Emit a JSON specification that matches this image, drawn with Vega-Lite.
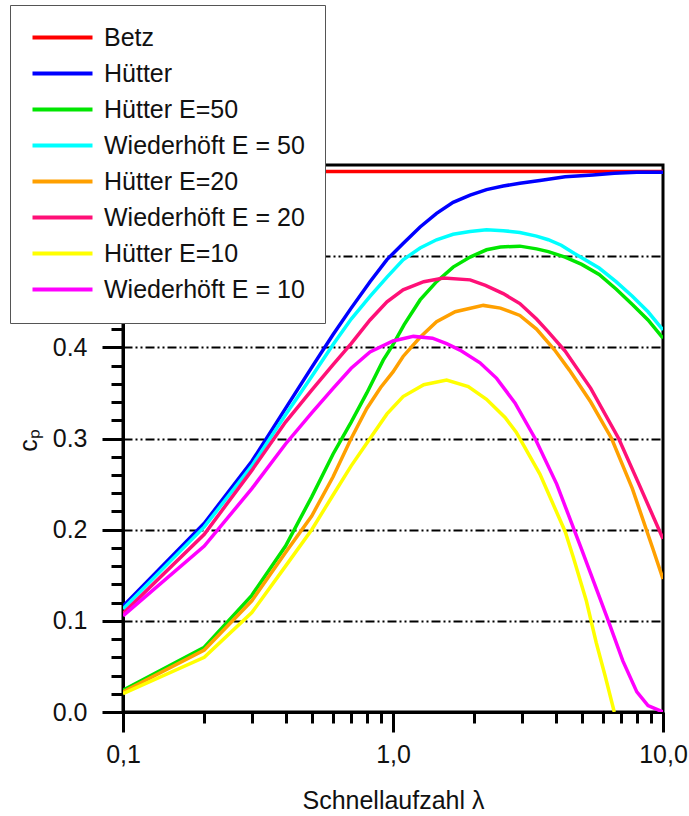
{
  "$schema": "https://vega.github.io/schema/vega-lite/v6.json",
  "width": 540,
  "height": 547,
  "autosize": {"type": "none"},
  "padding": {"left": 123, "top": 165, "right": 26, "bottom": 104},
  "background": "white",
  "config": {
    "font": "Liberation Sans",
    "view": {"stroke": "black", "strokeWidth": 3},
    "axis": {"domainColor": "black", "domainWidth": 3, "tickColor": "black", "tickWidth": 3, "labelColor": "#111", "titleColor": "#111", "labelFont": "Liberation Sans", "titleFont": "Liberation Sans", "titleFontWeight": "normal"}
  },
  "data": {"values": [
    {"series": "Betz", "lambda": 0.1, "cp": 0.593},
    {"series": "Betz", "lambda": 10, "cp": 0.593},
    {"series": "Hütter", "lambda": 0.1, "cp": 0.116},
    {"series": "Hütter", "lambda": 0.2, "cp": 0.207},
    {"series": "Hütter", "lambda": 0.3, "cp": 0.275},
    {"series": "Hütter", "lambda": 0.4, "cp": 0.333},
    {"series": "Hütter", "lambda": 0.5, "cp": 0.378},
    {"series": "Hütter", "lambda": 0.6, "cp": 0.414},
    {"series": "Hütter", "lambda": 0.7, "cp": 0.443},
    {"series": "Hütter", "lambda": 0.822, "cp": 0.472},
    {"series": "Hütter", "lambda": 0.948, "cp": 0.496},
    {"series": "Hütter", "lambda": 1.09, "cp": 0.514},
    {"series": "Hütter", "lambda": 1.26, "cp": 0.532},
    {"series": "Hütter", "lambda": 1.45, "cp": 0.547},
    {"series": "Hütter", "lambda": 1.67, "cp": 0.559},
    {"series": "Hütter", "lambda": 1.93, "cp": 0.567},
    {"series": "Hütter", "lambda": 2.22, "cp": 0.573},
    {"series": "Hütter", "lambda": 2.56, "cp": 0.577},
    {"series": "Hütter", "lambda": 2.95, "cp": 0.580},
    {"series": "Hütter", "lambda": 3.5, "cp": 0.583},
    {"series": "Hütter", "lambda": 4.34, "cp": 0.587},
    {"series": "Hütter", "lambda": 5.5, "cp": 0.589},
    {"series": "Hütter", "lambda": 6.6, "cp": 0.591},
    {"series": "Hütter", "lambda": 8.0, "cp": 0.592},
    {"series": "Hütter", "lambda": 10, "cp": 0.592},
    {"series": "Hütter E=50", "lambda": 0.1, "cp": 0.024},
    {"series": "Hütter E=50", "lambda": 0.2, "cp": 0.071},
    {"series": "Hütter E=50", "lambda": 0.3, "cp": 0.128},
    {"series": "Hütter E=50", "lambda": 0.4, "cp": 0.182},
    {"series": "Hütter E=50", "lambda": 0.5, "cp": 0.236},
    {"series": "Hütter E=50", "lambda": 0.6, "cp": 0.283},
    {"series": "Hütter E=50", "lambda": 0.7, "cp": 0.318},
    {"series": "Hütter E=50", "lambda": 0.8, "cp": 0.350},
    {"series": "Hütter E=50", "lambda": 0.92, "cp": 0.386},
    {"series": "Hütter E=50", "lambda": 1.0, "cp": 0.403},
    {"series": "Hütter E=50", "lambda": 1.1, "cp": 0.425},
    {"series": "Hütter E=50", "lambda": 1.26, "cp": 0.452},
    {"series": "Hütter E=50", "lambda": 1.45, "cp": 0.472},
    {"series": "Hütter E=50", "lambda": 1.67, "cp": 0.488},
    {"series": "Hütter E=50", "lambda": 1.93, "cp": 0.499},
    {"series": "Hütter E=50", "lambda": 2.22, "cp": 0.507},
    {"series": "Hütter E=50", "lambda": 2.5, "cp": 0.510},
    {"series": "Hütter E=50", "lambda": 2.95, "cp": 0.511},
    {"series": "Hütter E=50", "lambda": 3.4, "cp": 0.508},
    {"series": "Hütter E=50", "lambda": 3.76, "cp": 0.505},
    {"series": "Hütter E=50", "lambda": 4.34, "cp": 0.499},
    {"series": "Hütter E=50", "lambda": 5.0, "cp": 0.491},
    {"series": "Hütter E=50", "lambda": 5.8, "cp": 0.480},
    {"series": "Hütter E=50", "lambda": 6.7, "cp": 0.464},
    {"series": "Hütter E=50", "lambda": 7.7, "cp": 0.447},
    {"series": "Hütter E=50", "lambda": 8.8, "cp": 0.430},
    {"series": "Hütter E=50", "lambda": 10, "cp": 0.410},
    {"series": "Wiederhöft E = 50", "lambda": 0.1, "cp": 0.113},
    {"series": "Wiederhöft E = 50", "lambda": 0.2, "cp": 0.203},
    {"series": "Wiederhöft E = 50", "lambda": 0.3, "cp": 0.270},
    {"series": "Wiederhöft E = 50", "lambda": 0.4, "cp": 0.326},
    {"series": "Wiederhöft E = 50", "lambda": 0.5, "cp": 0.368},
    {"series": "Wiederhöft E = 50", "lambda": 0.6, "cp": 0.403},
    {"series": "Wiederhöft E = 50", "lambda": 0.7, "cp": 0.431},
    {"series": "Wiederhöft E = 50", "lambda": 0.822, "cp": 0.456},
    {"series": "Wiederhöft E = 50", "lambda": 0.95, "cp": 0.477},
    {"series": "Wiederhöft E = 50", "lambda": 1.09, "cp": 0.496},
    {"series": "Wiederhöft E = 50", "lambda": 1.26, "cp": 0.509},
    {"series": "Wiederhöft E = 50", "lambda": 1.45, "cp": 0.518},
    {"series": "Wiederhöft E = 50", "lambda": 1.67, "cp": 0.524},
    {"series": "Wiederhöft E = 50", "lambda": 1.93, "cp": 0.527},
    {"series": "Wiederhöft E = 50", "lambda": 2.22, "cp": 0.529},
    {"series": "Wiederhöft E = 50", "lambda": 2.56, "cp": 0.528},
    {"series": "Wiederhöft E = 50", "lambda": 2.95, "cp": 0.526},
    {"series": "Wiederhöft E = 50", "lambda": 3.4, "cp": 0.522},
    {"series": "Wiederhöft E = 50", "lambda": 3.76, "cp": 0.518},
    {"series": "Wiederhöft E = 50", "lambda": 4.2, "cp": 0.512},
    {"series": "Wiederhöft E = 50", "lambda": 4.7, "cp": 0.503},
    {"series": "Wiederhöft E = 50", "lambda": 5.8, "cp": 0.487},
    {"series": "Wiederhöft E = 50", "lambda": 6.7, "cp": 0.472},
    {"series": "Wiederhöft E = 50", "lambda": 7.7, "cp": 0.456},
    {"series": "Wiederhöft E = 50", "lambda": 8.8, "cp": 0.439},
    {"series": "Wiederhöft E = 50", "lambda": 10, "cp": 0.419},
    {"series": "Hütter E=20", "lambda": 0.1, "cp": 0.022},
    {"series": "Hütter E=20", "lambda": 0.2, "cp": 0.068},
    {"series": "Hütter E=20", "lambda": 0.3, "cp": 0.122},
    {"series": "Hütter E=20", "lambda": 0.4, "cp": 0.175},
    {"series": "Hütter E=20", "lambda": 0.5, "cp": 0.215},
    {"series": "Hütter E=20", "lambda": 0.6, "cp": 0.258},
    {"series": "Hütter E=20", "lambda": 0.7, "cp": 0.300},
    {"series": "Hütter E=20", "lambda": 0.8, "cp": 0.333},
    {"series": "Hütter E=20", "lambda": 0.9, "cp": 0.356},
    {"series": "Hütter E=20", "lambda": 1.0, "cp": 0.373},
    {"series": "Hütter E=20", "lambda": 1.09, "cp": 0.390},
    {"series": "Hütter E=20", "lambda": 1.26, "cp": 0.411},
    {"series": "Hütter E=20", "lambda": 1.45, "cp": 0.428},
    {"series": "Hütter E=20", "lambda": 1.7, "cp": 0.439},
    {"series": "Hütter E=20", "lambda": 2.16, "cp": 0.446},
    {"series": "Hütter E=20", "lambda": 2.5, "cp": 0.443},
    {"series": "Hütter E=20", "lambda": 2.95, "cp": 0.435},
    {"series": "Hütter E=20", "lambda": 3.4, "cp": 0.420},
    {"series": "Hütter E=20", "lambda": 3.97, "cp": 0.397},
    {"series": "Hütter E=20", "lambda": 4.5, "cp": 0.375},
    {"series": "Hütter E=20", "lambda": 5.4, "cp": 0.340},
    {"series": "Hütter E=20", "lambda": 6.45, "cp": 0.300},
    {"series": "Hütter E=20", "lambda": 7.7, "cp": 0.245},
    {"series": "Hütter E=20", "lambda": 9.2, "cp": 0.178},
    {"series": "Hütter E=20", "lambda": 10, "cp": 0.146},
    {"series": "Wiederhöft E = 20", "lambda": 0.1, "cp": 0.108},
    {"series": "Wiederhöft E = 20", "lambda": 0.2, "cp": 0.195},
    {"series": "Wiederhöft E = 20", "lambda": 0.3, "cp": 0.265},
    {"series": "Wiederhöft E = 20", "lambda": 0.4, "cp": 0.318},
    {"series": "Wiederhöft E = 20", "lambda": 0.5, "cp": 0.353},
    {"series": "Wiederhöft E = 20", "lambda": 0.6, "cp": 0.381},
    {"series": "Wiederhöft E = 20", "lambda": 0.7, "cp": 0.404},
    {"series": "Wiederhöft E = 20", "lambda": 0.822, "cp": 0.430},
    {"series": "Wiederhöft E = 20", "lambda": 0.95, "cp": 0.450},
    {"series": "Wiederhöft E = 20", "lambda": 1.09, "cp": 0.463},
    {"series": "Wiederhöft E = 20", "lambda": 1.3, "cp": 0.472},
    {"series": "Wiederhöft E = 20", "lambda": 1.54, "cp": 0.476},
    {"series": "Wiederhöft E = 20", "lambda": 1.93, "cp": 0.474},
    {"series": "Wiederhöft E = 20", "lambda": 2.2, "cp": 0.468},
    {"series": "Wiederhöft E = 20", "lambda": 2.56, "cp": 0.459},
    {"series": "Wiederhöft E = 20", "lambda": 2.95, "cp": 0.448},
    {"series": "Wiederhöft E = 20", "lambda": 3.4, "cp": 0.431},
    {"series": "Wiederhöft E = 20", "lambda": 3.76, "cp": 0.417},
    {"series": "Wiederhöft E = 20", "lambda": 4.34, "cp": 0.396},
    {"series": "Wiederhöft E = 20", "lambda": 5.4, "cp": 0.355},
    {"series": "Wiederhöft E = 20", "lambda": 6.85, "cp": 0.300},
    {"series": "Wiederhöft E = 20", "lambda": 8.2, "cp": 0.248},
    {"series": "Wiederhöft E = 20", "lambda": 10, "cp": 0.190},
    {"series": "Hütter E=10", "lambda": 0.1, "cp": 0.020},
    {"series": "Hütter E=10", "lambda": 0.2, "cp": 0.060},
    {"series": "Hütter E=10", "lambda": 0.3, "cp": 0.109},
    {"series": "Hütter E=10", "lambda": 0.4, "cp": 0.160},
    {"series": "Hütter E=10", "lambda": 0.5, "cp": 0.200},
    {"series": "Hütter E=10", "lambda": 0.6, "cp": 0.238},
    {"series": "Hütter E=10", "lambda": 0.7, "cp": 0.270},
    {"series": "Hütter E=10", "lambda": 0.822, "cp": 0.300},
    {"series": "Hütter E=10", "lambda": 0.95, "cp": 0.327},
    {"series": "Hütter E=10", "lambda": 1.09, "cp": 0.346},
    {"series": "Hütter E=10", "lambda": 1.3, "cp": 0.359},
    {"series": "Hütter E=10", "lambda": 1.58, "cp": 0.364},
    {"series": "Hütter E=10", "lambda": 1.9, "cp": 0.357},
    {"series": "Hütter E=10", "lambda": 2.22, "cp": 0.343},
    {"series": "Hütter E=10", "lambda": 2.6, "cp": 0.323},
    {"series": "Hütter E=10", "lambda": 2.86, "cp": 0.307},
    {"series": "Hütter E=10", "lambda": 3.5, "cp": 0.261},
    {"series": "Hütter E=10", "lambda": 4.34, "cp": 0.198},
    {"series": "Hütter E=10", "lambda": 4.65, "cp": 0.170},
    {"series": "Hütter E=10", "lambda": 5.2, "cp": 0.122},
    {"series": "Hütter E=10", "lambda": 5.66, "cp": 0.076},
    {"series": "Hütter E=10", "lambda": 6.1, "cp": 0.040},
    {"series": "Hütter E=10", "lambda": 6.6, "cp": 0.0},
    {"series": "Wiederhöft E = 10", "lambda": 0.1, "cp": 0.1055},
    {"series": "Wiederhöft E = 10", "lambda": 0.2, "cp": 0.182},
    {"series": "Wiederhöft E = 10", "lambda": 0.3, "cp": 0.245},
    {"series": "Wiederhöft E = 10", "lambda": 0.4, "cp": 0.294},
    {"series": "Wiederhöft E = 10", "lambda": 0.5, "cp": 0.328},
    {"series": "Wiederhöft E = 10", "lambda": 0.6, "cp": 0.355},
    {"series": "Wiederhöft E = 10", "lambda": 0.7, "cp": 0.377},
    {"series": "Wiederhöft E = 10", "lambda": 0.822, "cp": 0.395},
    {"series": "Wiederhöft E = 10", "lambda": 1.0, "cp": 0.407},
    {"series": "Wiederhöft E = 10", "lambda": 1.19, "cp": 0.412},
    {"series": "Wiederhöft E = 10", "lambda": 1.4, "cp": 0.410},
    {"series": "Wiederhöft E = 10", "lambda": 1.58, "cp": 0.404},
    {"series": "Wiederhöft E = 10", "lambda": 1.77, "cp": 0.397},
    {"series": "Wiederhöft E = 10", "lambda": 2.1, "cp": 0.383},
    {"series": "Wiederhöft E = 10", "lambda": 2.42, "cp": 0.366},
    {"series": "Wiederhöft E = 10", "lambda": 2.83, "cp": 0.339},
    {"series": "Wiederhöft E = 10", "lambda": 3.36, "cp": 0.300},
    {"series": "Wiederhöft E = 10", "lambda": 4.04, "cp": 0.250},
    {"series": "Wiederhöft E = 10", "lambda": 5.0, "cp": 0.178},
    {"series": "Wiederhöft E = 10", "lambda": 5.38, "cp": 0.153},
    {"series": "Wiederhöft E = 10", "lambda": 6.2, "cp": 0.104},
    {"series": "Wiederhöft E = 10", "lambda": 7.1, "cp": 0.056},
    {"series": "Wiederhöft E = 10", "lambda": 8.0, "cp": 0.022},
    {"series": "Wiederhöft E = 10", "lambda": 8.8, "cp": 0.007},
    {"series": "Wiederhöft E = 10", "lambda": 10, "cp": 0.0}
  ]},
  "mark": {"type": "line", "interpolate": "linear", "strokeWidth": 3.5, "clip": true},
  "encoding": {
    "x": {
      "field": "lambda", "type": "quantitative",
      "scale": {"type": "log", "domain": [0.1, 10], "nice": false},
      "axis": {
        "title": "Schnellaufzahl λ",
        "titleFontSize": 25, "titlePadding": 21,
        "values": [0.1,0.2,0.3,0.4,0.5,0.6,0.7,0.8,0.9,1,2,3,4,5,6,7,8,9,10],
        "labelExpr": "datum.value == 0.1 ? '0,1' : datum.value == 1 ? '1,0' : datum.value == 10 ? '10,0' : ''",
        "labelFontSize": 25, "labelPadding": 10, "labelFlush": false, "labelOverlap": false,
        "tickSize": {"condition": {"test": "datum.value == 0.1 || datum.value == 1 || datum.value == 10", "value": 20}, "value": 11},
        "grid": false
      }
    },
    "y": {
      "field": "cp", "type": "quantitative",
      "scale": {"domain": [0, 0.6], "nice": false, "zero": true},
      "axis": {
        "title": "cₚ",
        "titleFontSize": 25, "titleX": -95, "titleY": 275, "titleAngle": -90, "titleAlign": "center", "titleBaseline": "middle",
        "values": [0,0.02,0.04,0.06,0.08,0.1,0.12,0.14,0.16,0.18,0.2,0.22,0.24,0.26,0.28,0.3,0.32,0.34,0.36,0.38,0.4,0.42,0.44,0.46,0.48,0.5,0.52,0.54,0.56,0.58,0.6],
        "labelExpr": "abs(datum.value*10 - round(datum.value*10)) < 0.001 ? format(datum.value, '.1f') : ''",
        "labelFontSize": 25, "labelPadding": 15, "labelOverlap": false, "labelFlush": false,
        "tickSize": {"condition": {"test": "abs(datum.value*10 - round(datum.value*10)) < 0.001", "value": 21}, "value": 12},
        "grid": true,
        "gridColor": "black", "gridWidth": 1.8, "gridDash": [9, 3, 2, 3, 2, 3],
        "gridOpacity": {"condition": {"test": "abs(datum.value*10 - round(datum.value*10)) < 0.001 && datum.value > 0.05 && datum.value < 0.55", "value": 1}, "value": 0}
      }
    },
    "color": {
      "field": "series", "type": "nominal",
      "scale": {
        "domain": ["Betz", "Hütter", "Hütter E=50", "Wiederhöft E = 50", "Hütter E=20", "Wiederhöft E = 20", "Hütter E=10", "Wiederhöft E = 10"],
        "range": ["#ff0000", "#0000ff", "#00e600", "#00ffff", "#ffa000", "#ff1077", "#ffff00", "#ff00ff"]
      },
      "legend": {
        "title": null, "orient": "none", "legendX": -113, "legendY": -160,
        "fillColor": "white", "strokeColor": "#555", "padding": 20,
        "symbolType": "M-1,0H5", "symbolSize": 400, "symbolStrokeWidth": 4,
        "labelFontSize": 25, "labelFont": "Liberation Sans", "labelColor": "#111", "labelOffset": 49,
        "rowPadding": 10, "labelLimit": 400
      }
    }
  }
}
